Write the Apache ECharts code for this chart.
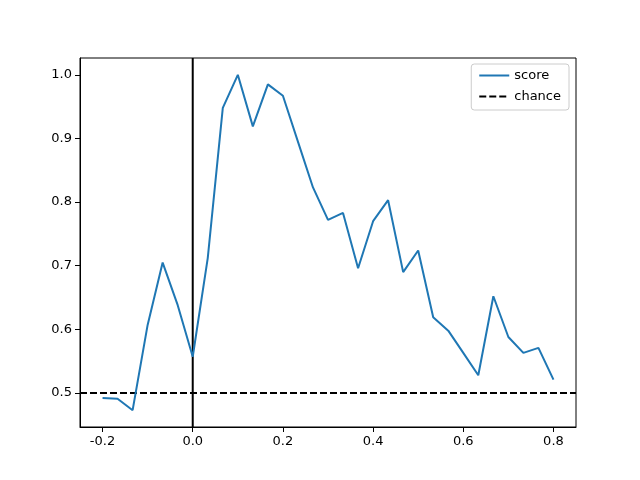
<!DOCTYPE html>
<html>
<head>
<meta charset="utf-8">
<script src="https://cdn.jsdelivr.net/npm/echarts@6/dist/echarts.min.js"></script>
<style>html,body{margin:0;padding:0;background:#fff}#c{width:640px;height:480px}</style>
</head>
<body>
<div id="c"></div>
<script>
var times = [-0.2,-0.1667,-0.1333,-0.1,-0.0667,-0.0333,0,0.0333,0.0667,0.1,0.1333,0.1667,0.2,0.2333,0.2667,0.3,0.3333,0.3667,0.4,0.4333,0.4667,0.5,0.5333,0.5667,0.6,0.6333,0.6667,0.7,0.7333,0.7667,0.8];
var scores = [0.492,0.491,0.473,0.607,0.705,0.638,0.557,0.712,0.948,1.0,0.919,0.985,0.967,0.895,0.823,0.772,0.783,0.696,0.770,0.803,0.690,0.724,0.619,0.598,0.563,0.528,0.652,0.588,0.563,0.571,0.521];
var chanceLevel = 0.5;
var xTicks = [-0.2,0.0,0.2,0.4,0.6,0.8];
var yTicks = [0.5,0.6,0.7,0.8,0.9,1.0];
var xMin = -0.25, xMax = 0.85, yMin = 0.4466, yMax = 1.0264;

var font = 'DejaVu Sans';
var chart = echarts.init(document.getElementById('c'), null, {renderer:'canvas'});
chart.setOption({
  animation: false,
  backgroundColor: '#fff',
  grid: {left: 80, right: 64, top: 58, bottom: 53, show: true, borderColor: '#000', borderWidth: 1, backgroundColor: 'transparent'},
  legend: {
    orient: 'vertical', right: 71, top: 64,
    data: ['score', 'chance'],
    padding: [5, 8, 7, 7],
    borderColor: '#cccccc', borderWidth: 1, borderRadius: 3,
    itemWidth: 30, itemHeight: 14, itemGap: 8,
    itemStyle: {opacity: 0},
    textStyle: {fontFamily: font, fontSize: 13, color: '#000'}
  },
  xAxis: {
    type: 'value', min: xMin, max: xMax,
    splitLine: {show: false},
    axisLine: {show: true, onZero: false, lineStyle: {color: '#000', width: 1}},
    axisTick: {show: true, length: 5, lineStyle: {color: '#000'}, customValues: xTicks},
    axisLabel: {color: '#000', fontFamily: font, fontSize: 13, margin: 8, customValues: xTicks,
      formatter: function(v){ return v.toFixed(1); }}
  },
  yAxis: {
    type: 'value', min: yMin, max: yMax,
    splitLine: {show: false},
    axisLine: {show: true, onZero: false, lineStyle: {color: '#000', width: 1}},
    axisTick: {show: true, length: 5, lineStyle: {color: '#000'}, customValues: yTicks},
    axisLabel: {color: '#000', fontFamily: font, fontSize: 13, margin: 8, customValues: yTicks,
      formatter: function(v){ return v.toFixed(1); }}
  },
  series: [
    {
      name: 'score', type: 'line', symbol: 'none', z: 3,
      data: times.map(function(t, i){ return [t, scores[i]]; }),
      lineStyle: {color: '#1f77b4', width: 2}, itemStyle: {color: '#1f77b4'}
    },
    {
      name: 'chance', type: 'line', symbol: 'none', z: 2,
      data: [[xMin, chanceLevel], [xMax, chanceLevel]],
      lineStyle: {color: '#000', width: 2, type: [7, 3]}, itemStyle: {color: '#000'}
    },
    {
      name: 'onset', type: 'line', symbol: 'none', z: 2,
      data: [[0, yMin], [0, yMax]],
      lineStyle: {color: '#000', width: 2}, itemStyle: {color: '#000'}
    }
  ]
});
</script>
</body>
</html>
